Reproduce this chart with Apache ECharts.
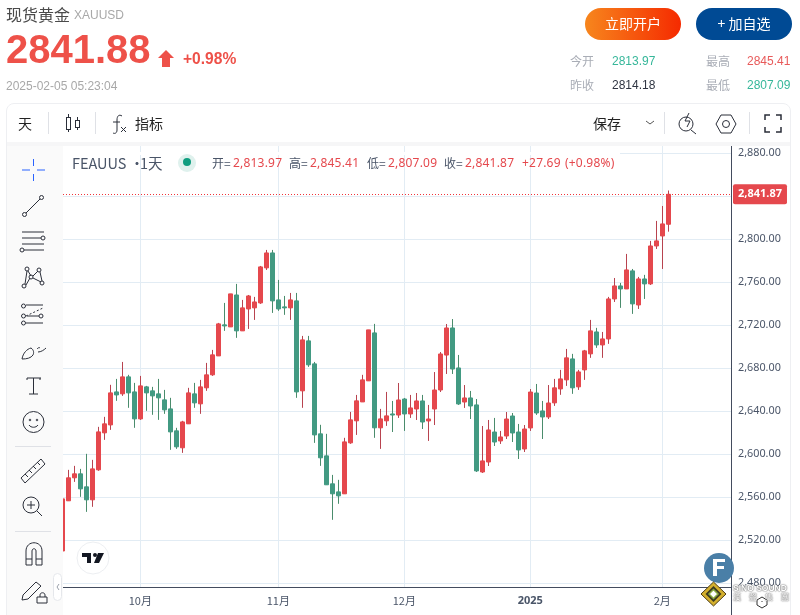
<!DOCTYPE html>
<html lang="zh">
<head>
<meta charset="UTF-8">
<title>现货黄金 XAUUSD</title>
<script src="https://cdn.jsdelivr.net/npm/echarts@6/dist/echarts.min.js"></script>
<style>
html, body { margin: 0; padding: 0; background: #fff; overflow: hidden; }
body { width: 800px; height: 615px; position: relative; font-family: "Noto Sans CJK SC", "Liberation Sans", sans-serif; }
#main { position: absolute; left: 0; top: 0; width: 800px; height: 615px; }
.t { position: absolute; white-space: nowrap; line-height: 1; }
.d { position: absolute; }
.num { font-family: "Liberation Sans", sans-serif; }
.leg { font-size: 12px; color: #4a5568; top: 157px; font-family: "Noto Sans CJK SC", "Noto Sans", sans-serif; }
.leg.r { color: #e5484d; font-family: "Noto Sans", sans-serif; letter-spacing: .2px; }
.stat { font-size: 12px; color: #a9adb6; }
svg { position: absolute; left: 0; top: 0; pointer-events: none; }
</style>
</head>
<body>
<div id="main"></div>

<!-- page chrome around the chart -->
<div class="d" style="left:6px;top:103px;width:785px;height:520px;border:1px solid #eeeff2;border-radius:8px;box-sizing:border-box;"></div>
<div class="d" style="left:7px;top:142px;width:783px;height:4px;background:#f6f6f7;"></div>
<div class="d" style="left:7px;top:146px;width:56px;height:469px;background:#fafafa;"></div>
<div class="d" style="left:731px;top:146px;width:1px;height:469px;background:#434c5e;"></div>
<div class="d" style="left:63px;top:152px;width:557px;height:3px;background:#fff;"></div>

<div class="t" style="left:6px;top:6px;font-size:16px;color:#4a4a4a;">现货黄金</div>
<div class="t num" style="left:74px;top:9px;font-size:12px;color:#a8a8a8;">XAUUSD</div>
<div class="t num" style="left:6px;top:29px;font-size:40px;font-weight:bold;color:#ee5149;">2841.88</div>
<div class="t num" style="left:183px;top:51px;font-size:15.600px;font-weight:bold;color:#ee5149;">+0.98%</div>
<div class="t num" style="left:6px;top:80px;font-size:12px;color:#a8a8a8;">2025-02-05 05:23:04</div>

<div class="d" style="left:585px;top:8px;width:96px;height:32px;border-radius:16px;background:linear-gradient(90deg,#f7861d,#f52a00);"></div>
<div class="t" style="left:585px;top:16px;width:96px;text-align:center;font-size:14px;color:#fff;">立即开户</div>
<div class="d" style="left:696px;top:8px;width:96px;height:32px;border-radius:16px;background:#004a94;"></div>
<div class="t" style="left:696px;top:16px;width:96px;text-align:center;font-size:14px;color:#fff;">+ 加自选</div>

<div class="t stat" style="left:570px;top:55px;">今开</div>
<div class="t stat num" style="left:612px;top:55px;color:#36b79a;">2813.97</div>
<div class="t stat" style="left:706px;top:55px;">最高</div>
<div class="t stat num" style="left:747px;top:55px;color:#e85a5a;">2845.41</div>
<div class="t stat" style="left:570px;top:79px;">昨收</div>
<div class="t stat num" style="left:612px;top:79px;color:#2f3542;">2814.18</div>
<div class="t stat" style="left:706px;top:79px;">最低</div>
<div class="t stat num" style="left:747px;top:79px;color:#36b79a;">2807.09</div>

<div class="t" style="left:18px;top:116px;font-size:14px;color:#222;">天</div>
<div class="t" style="left:135px;top:116px;font-size:14px;color:#222;">指标</div>
<div class="t" style="left:593px;top:116px;font-size:14px;color:#222;">保存</div>

<div class="t" style="left:72px;top:156px;font-size:14.500px;color:#4a5568;">FEAUUS ·</div>
<div class="t" style="left:140px;top:156px;font-size:14.500px;color:#4a5568;">1天</div>
<div class="t leg" style="left:212px;">开=</div>
<div class="t leg r" style="left:233px;">2,813.97</div>
<div class="t leg" style="left:289px;">高=</div>
<div class="t leg r" style="left:310px;">2,845.41</div>
<div class="t leg" style="left:367px;">低=</div>
<div class="t leg r" style="left:388px;">2,807.09</div>
<div class="t leg" style="left:444px;">收=</div>
<div class="t leg r" style="left:465px;">2,841.87</div>
<div class="t leg r" style="left:522px;">+27.69</div>
<div class="t leg r" style="left:565px;">(+0.98%)</div>

<!-- icons -->
<svg width="800" height="615" fill="none" stroke="#2a2e39" stroke-width="1">
  <path d="M166 50l8 8h-4v9h-8v-9h-4z" fill="#ee5149" stroke="none"/>
  <circle cx="187" cy="163" r="9" fill="#dff1ed" stroke="none"/>
  <circle cx="187" cy="162" r="4" fill="#0f9d7f" stroke="none"/>

  <path d="M48.500 112v22M95.500 112v22M664.500 112v22M749.500 112v22" stroke="#dfe1e6"/>
  <path d="M68.500 114v3M68.500 129v3M77.500 117v3M77.500 127v3"/>
  <rect x="66.500" y="117.500" width="4" height="12"/>
  <rect x="75.500" y="120.500" width="4" height="7"/>
  <path d="M122 116c-3-2-5 0-5 4v10c0 3-2 4-4 3M113 122h7M121 127l5 5M126 127l-5 5"/>
  <path d="M646 121l4 3 4-3" stroke="#555"/>
  <circle cx="686" cy="124" r="7"/>
  <path d="M691 130l5 4M689 113l-4 8h5l-3 6"/>
  <path d="M716 124l5-9h10l5 9-5 9h-10z"/>
  <circle cx="726" cy="124" r="3.500"/>
  <path d="M765 120v-5h5M776 115h5v5M781 127v5h-5M770 132h-5v-5" stroke-width="1.500"/>

  <path d="M33.500 159v7M33.500 174v7M22 170h8M37 170h8" stroke="#2962ff"/>
  <circle cx="24.500" cy="214.500" r="2"/><circle cx="41.500" cy="197.500" r="2"/><path d="M26 213l14-14"/>
  <path d="M22 232h22M22 238h19M22 244h22M24 250h20"/><circle cx="43" cy="238" r="2"/><circle cx="22" cy="250" r="2"/>
  <circle cx="24" cy="286" r="2"/><circle cx="27" cy="269" r="2"/><circle cx="31" cy="277" r="2"/><circle cx="39" cy="270" r="2"/><circle cx="42" cy="283" r="2"/>
  <path d="M25 284l2-13M28 271l3 5M33 276l5-5M40 272l2 9M33 278l8 4M26 285l4-7"/>
  <path d="M26 305h17M27 316h12M26 323h17"/><path d="M26 316l17-8" stroke-dasharray="2 2"/>
  <circle cx="23.500" cy="306" r="2"/><circle cx="23.500" cy="316" r="2"/><circle cx="23.500" cy="323" r="2"/><circle cx="41" cy="316" r="2"/>
  <path d="M22 359c1-6 5-10 9-11 3 2 3 5 2 7-2 3-6 4-11 4zM38 352c3 0 6-2 8-4M37 349c1-1 2-2 3-1"/>
  <path d="M27 378h14M33.500 378v16M29 394h9M27 378v2M40 378v2"/>
  <circle cx="33.500" cy="422" r="10.500"/><circle cx="30" cy="420" r="0.800"/><circle cx="37" cy="420" r="0.800"/><path d="M29 425c2 3 7 3 9 0"/>
  <path d="M15 446.500h36" stroke="#dfe1e6"/>
  <path d="M21 478l20-19 4 5-20 19zM25 474l3 3M29 470l3 3M33 466l3 3M37 462l3 3"/>
  <circle cx="31" cy="505" r="8"/><path d="M37 511l5 5M31 501v8M27 505h8"/>
  <path d="M15 531.500h36" stroke="#dfe1e6"/>
  <path d="M26 565v-14c0-11 16-11 16 0v14h-6v-14c0-3-4-3-4 0v14zM26 559h6M36 559h6"/>
  <path d="M23 595l13-13 5 4-13 13-6 1zM40 597v-2c0-3 5-3 5 0v2M37 597h10v6H37z"/>
  <rect x="53.500" y="573.500" width="8" height="27" rx="4" fill="#fff" stroke="#e5e7eb"/>
  <path d="M59 584l-2 3 2 3" stroke="#9aa0aa"/>

  <circle cx="93" cy="558" r="16" fill="#fff" stroke="#eceef1"/>
  <path d="M82 553h9v10h-4v-6h-5zM98 553h6l-5 10h-5z" fill="#131722" stroke="none"/><circle cx="95" cy="555" r="2" fill="#131722" stroke="none"/>

  <circle cx="719" cy="568" r="15" fill="#4a7fa7" stroke="none"/>
  <path d="M713 559h12v3h-8v4h7v3h-7v7h-4z" fill="#fff" stroke="none"/>
  <path d="M713.500 582l12.500 12-12.500 12-12.500-12z" fill="#d4b02e" stroke="#4b3a12"/>
  <path d="M713.500 586l8 8-8 8-8-8z" fill="#3c3a20" stroke="none"/>
  <path d="M713.500 589.500l4.500 4.500-4.500 4.500-4.500-4.500z" fill="#fff" stroke="#8aa83f" stroke-width="1.500"/>
  <path d="M757 600l5-3 5 3v5l-5 3-5-3zM762 601v1" stroke="#333"/>
</svg>
<div class="t num" style="left:733px;top:584px;font-size:8.500px;font-weight:bold;color:#fff;text-shadow:0 0 1.500px #666,0 0 1.500px #666;">SINO SOUND</div>
<div class="t" style="left:733px;top:593px;font-size:8px;color:#fff;text-shadow:0 0 1.500px #666,0 0 1.500px #666;letter-spacing:8px;">漢聲集團</div>

<script type="text/javascript">
(function () {
    // daily candles, oldest first
    var opens = [2510, 2556.7, 2578.1, 2581.8, 2569.7, 2557.6, 2585.5, 2619.9, 2627.3, 2658, 2656.2, 2672, 2658, 2632.9,
        2662.7, 2659, 2656.2, 2650.6, 2642.2, 2621.8, 2606, 2628.3, 2656.2, 2646.9, 2661.8, 2673.9, 2691.5, 2720.4,
        2718.5, 2748.2, 2714.8, 2735.2, 2736.2, 2740.8, 2773.4, 2787.3, 2743.6, 2737.1, 2736.2, 2742.7, 2659, 2705.5,
        2684.1, 2619, 2598.5, 2572.5, 2565, 2563.2, 2610.6, 2631.1, 2648.7, 2668.3, 2712.9, 2624.6, 2631.1, 2637.5,
        2636.5, 2651.4, 2637.5, 2642.1, 2649.6, 2631, 2642.1, 2659.8, 2692.3, 2717.5, 2680.3, 2648.6, 2652.4, 2645.9,
        2583.5, 2592.8, 2620.7, 2612.4, 2617, 2635.6, 2620.7, 2604.9, 2624.5, 2657, 2640.3, 2634.7, 2647.8, 2660.8,
        2669.2, 2688.7, 2662.7, 2678.5, 2693.4, 2713.8, 2701.7, 2707.3, 2744.5, 2756.6, 2753.8, 2770.6, 2738.9, 2763.1,
        2758.5, 2793.8, 2803.1, 2813.97];
    var closes = [2558.5, 2578.1, 2581.8, 2567.8, 2557.6, 2586.4, 2620.8, 2628.3, 2657.1, 2655.2, 2672, 2657.1, 2632.9, 2663.6,
        2657.1, 2654.3, 2652.5, 2641.3, 2620.8, 2606.9, 2630.1, 2657.1, 2647.8, 2662.7, 2673.9, 2692.5, 2721.3, 2719.4,
        2749.2, 2714.8, 2736.2, 2747.3, 2741.7, 2774.3, 2787.3, 2742.7, 2735.2, 2736.2, 2743.6, 2658, 2706.4, 2683.2,
        2618, 2596.7, 2571.6, 2563.2, 2561.3, 2611.5, 2632, 2649.7, 2669.2, 2715.7, 2624.6, 2632.9, 2635.7, 2636.5,
        2650.5, 2637.5, 2643.1, 2649.6, 2630, 2632.8, 2659.8, 2693.3, 2717.5, 2679.3, 2646.8, 2652.4, 2644.9, 2584.5,
        2593.8, 2622.6, 2611.4, 2616.1, 2632.8, 2619.8, 2604, 2623.5, 2657.9, 2638.4, 2634.7, 2647.7, 2661.8, 2670.1,
        2689.7, 2661.8, 2676.6, 2696.2, 2714.8, 2701.7, 2707.3, 2744.5, 2756.6, 2753.8, 2771.5, 2739.9, 2763.1, 2758.5,
        2793.8, 2798.5, 2814.3, 2841.87];
    var lows = [2510, 2556.7, 2574.3, 2560.4, 2546.4, 2551.1, 2584.6, 2613.4, 2622.7, 2649.7, 2654.3, 2643.2, 2624.6, 2632,
        2640.4, 2636.7, 2632, 2637.6, 2604.1, 2605, 2601.3, 2628.3, 2643.2, 2637.6, 2659, 2672.9, 2691.5, 2714.8,
        2718.5, 2708.3, 2714.8, 2716.6, 2725, 2739.9, 2771.5, 2731.5, 2733.4, 2729.7, 2725, 2652.5, 2643.2, 2681.3,
        2610.6, 2589.2, 2571.6, 2539, 2553.9, 2563.2, 2609.7, 2618, 2648.7, 2668.3, 2615.3, 2605, 2626.4, 2620.7,
        2633.8, 2621.7, 2633.8, 2631.9, 2623.5, 2612.4, 2627.2, 2657.9, 2674.7, 2674.7, 2645.9, 2643.1, 2632.8, 2583.5,
        2582.6, 2589.1, 2607.7, 2609.6, 2614.2, 2611.4, 2595.6, 2602.1, 2621.7, 2636.6, 2614.2, 2632.8, 2645, 2655.3,
        2663.6, 2656.2, 2659.9, 2669.2, 2689.7, 2699, 2689.7, 2702.7, 2741.7, 2736.2, 2753.8, 2730.6, 2735.2, 2744.5,
        2757.5, 2791, 2772.4, 2807.09];
    var highs = [2558.5, 2585.5, 2589.2, 2586.4, 2600.4, 2594.8, 2625.5, 2634.8, 2664.6, 2670.1, 2685.9, 2673.9, 2666.4, 2672.9,
        2663.6, 2662.7, 2670.1, 2659.9, 2652.5, 2624.6, 2631.1, 2661.8, 2666.4, 2669.2, 2685, 2697.1, 2722.2, 2740.8,
        2749.2, 2758.5, 2743.6, 2748.2, 2746.4, 2775.2, 2790.1, 2790.1, 2762.2, 2747.3, 2750.1, 2750.1, 2710.1, 2710.1,
        2685.9, 2627.4, 2619, 2580.8, 2576.2, 2615.3, 2639.4, 2655.2, 2673.9, 2715.7, 2721.3, 2642.2, 2658, 2649.6,
        2666.3, 2652.4, 2655.2, 2657, 2655.2, 2645.9, 2676.5, 2695.1, 2721.2, 2725.8, 2692.4, 2664.4, 2658.9, 2651.4,
        2626.3, 2631.9, 2633.8, 2621.7, 2639.3, 2638.4, 2628.2, 2627.2, 2660.7, 2665.4, 2649.6, 2664.4, 2670.1, 2678.5,
        2698, 2693.4, 2678.5, 2697.1, 2725, 2717.6, 2713.8, 2746.4, 2764, 2759.4, 2786.4, 2772.4, 2765, 2766.9,
        2798.5, 2817.1, 2831, 2845.41];

    var priceTicks = [2480, 2520, 2560, 2600, 2640, 2680, 2720, 2760, 2800, 2840, 2880];
    var monthIndex = [13, 36, 57, 78, 100];
    var monthLabels = ['10月', '11月', '12月', '{year|2025}', '2月'];
    var lastPrice = 2841.87;

    var upColor = '#e5484d';
    var downColor = '#429a82';
    var upWick = '#b8434f';
    var downWick = '#4a8c6c';

    // wicks and bodies have different colours in the picture, so two candle series
    var wickSource = [];
    var bodySource = [];
    for (var i = 0; i < opens.length; i++) {
        wickSource.push([i, opens[i], closes[i], lows[i], highs[i]]);
        bodySource.push([i, opens[i], closes[i], Math.min(opens[i], closes[i]), Math.max(opens[i], closes[i])]);
    }

    var option = {
        animation: false,
        textStyle: { fontFamily: '"Noto Sans", sans-serif' },
        grid: { left: 63, top: 146, width: 668, height: 441 },
        xAxis: {
            type: 'value',
            min: 0.12,
            max: 111.45,
            axisLine: { onZero: false, lineStyle: { color: '#434c5e', width: 1 } },
            axisTick: { show: false, customValues: monthIndex },
            axisLabel: {
                customValues: monthIndex,
                color: '#4a5568',
                fontSize: 11,
                margin: 8,
                fontFamily: '"Noto Sans CJK SC", sans-serif',
                formatter: function (value) {
                    return monthLabels[monthIndex.indexOf(value)];
                },
                rich: {
                    year: { color: '#4a5568', fontSize: 11, fontWeight: 'bold', fontFamily: '"Noto Sans", sans-serif' }
                }
            },
            splitLine: { show: true, lineStyle: { color: '#e2ecf4', width: 1 } }
        },
        yAxis: {
            type: 'value',
            position: 'right',
            min: 2476.5,
            max: 2886.8,
            axisLine: { show: false },
            axisTick: { show: false, customValues: priceTicks },
            axisLabel: {
                customValues: priceTicks,
                color: '#4a5568',
                fontSize: 10.8,
                margin: 7,
                align: 'left',
                formatter: function (value) {
                    return value.toLocaleString('en-US', { minimumFractionDigits: 2 });
                }
            },
            splitLine: { show: true, lineStyle: { color: '#e2ecf4', width: 1 } }
        },
        series: [{
            type: 'candlestick',
            encode: { x: 0, y: [1, 2, 3, 4] },
            barWidth: 1,
            data: wickSource,
            itemStyle: {
                color: upWick,
                color0: downWick,
                borderColor: upWick,
                borderColor0: downWick,
                borderWidth: 1
            }
        }, {
            type: 'candlestick',
            encode: { x: 0, y: [1, 2, 3, 4] },
            barWidth: 4,
            data: bodySource,
            itemStyle: {
                color: upColor,
                color0: downColor,
                borderColor: upColor,
                borderColor0: downColor,
                borderWidth: 1
            },
            markLine: {
                silent: true,
                symbol: 'none',
                animation: false,
                lineStyle: { color: '#f0343a', type: [1, 2], width: 1 },
                label: {
                    position: 'end',
                    distance: 2,
                    color: '#fff',
                    fontSize: 11,
                    fontWeight: 'bold',
                    backgroundColor: upColor,
                    borderRadius: 2,
                    padding: [5, 5, 4, 5],
                    formatter: '2,841.87'
                },
                data: [{ yAxis: lastPrice }]
            }
        }]
    };

    var chartDom = document.getElementById('main');
    var myChart = echarts.init(chartDom);
    myChart.setOption(option);
})();
</script>
</body>
</html>
